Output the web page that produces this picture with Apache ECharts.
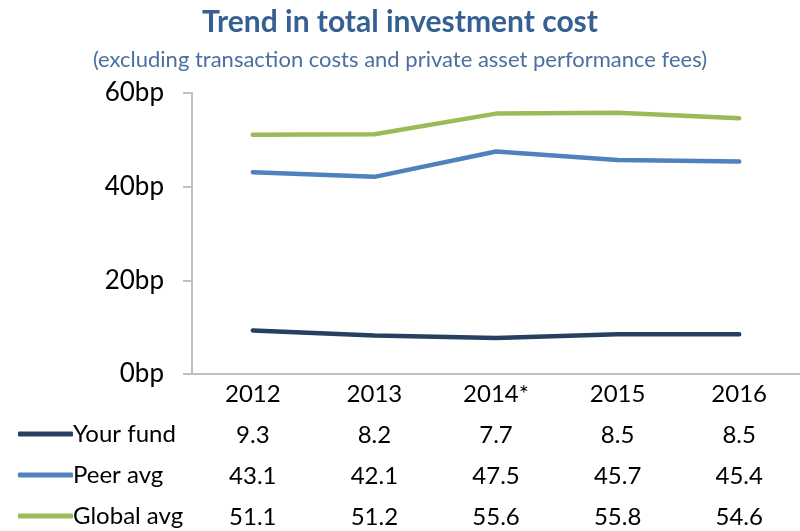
<!DOCTYPE html>
<html>
<head>
<meta charset="utf-8">
<script src="https://cdn.jsdelivr.net/npm/echarts@6/dist/echarts.min.js"></script>
<style>
  html, body { margin: 0; padding: 0; background: #fff; }
  #chart { width: 800px; height: 531px; }
</style>
</head>
<body>
<div id="chart"></div>
<script>
var years = ['2012', '2013', '2014*', '2015', '2016'];
var yourFund = [9.3, 8.2, 7.7, 8.5, 8.5];
var peerAvg = [43.1, 42.1, 47.5, 45.7, 45.4];
var globalAvg = [51.1, 51.2, 55.6, 55.8, 54.6];
var yTicks = [0, 20, 40, 60];

var font = 'Lato';
var seriesNames = ['Your fund', 'Peer avg', 'Global avg'];
var colors = ['#254061', '#4F81BD', '#9BBB59'];

// one extra x axis per table row, pushed down with offset
function rowAxis(values, off) {
    return {
        type: 'category',
        gridIndex: 0,
        position: 'bottom',
        offset: off,
        data: values.map(function (v) { return v.toFixed(1); }),
        axisLine: { show: false },
        axisTick: { show: false },
        axisLabel: { color: '#000', fontSize: 24, fontFamily: font, margin: 8 }
    };
}

var chart = echarts.init(document.getElementById('chart'));
var option = {
    animation: false,
    title: {
        text: 'Trend in total investment cost',
        subtext: '(excluding transaction costs and private asset performance fees)',
        left: 'center',
        top: 2,
        itemGap: 12,
        textStyle: { color: '#366092', fontSize: 30, fontWeight: 'bold', fontFamily: font },
        subtextStyle: { color: '#4A6FA0', fontSize: 22, fontFamily: font }
    },
    legend: {
        orient: 'vertical',
        left: 13,
        top: 414,
        height: 130,
        itemWidth: 55,
        itemHeight: 5,
        itemGap: 11,
        icon: 'roundRect',
        data: seriesNames,
        textStyle: { color: '#000', fontSize: 24, fontFamily: font, lineHeight: 30, padding: [0, 0, 0, -5] }
    },
    grid: { left: 192, top: 93, width: 620, height: 281 },
    xAxis: [
        {
            type: 'category',
            data: years,
            axisLine: { lineStyle: { color: '#BFBFBF', width: 2 } },
            axisTick: { show: false },
            axisLabel: { color: '#000', fontSize: 24, fontFamily: font, margin: 8 }
        },
        rowAxis(yourFund, 41),
        rowAxis(peerAvg, 82),
        rowAxis(globalAvg, 123)
    ],
    yAxis: {
        type: 'value',
        min: yTicks[0],
        max: yTicks[yTicks.length - 1],
        interval: 20,
        axisLine: { show: true, lineStyle: { color: '#BFBFBF', width: 2 } },
        axisTick: { show: true, inside: false, length: 9, lineStyle: { color: '#BFBFBF', width: 2 } },
        splitLine: { show: false },
        axisLabel: { color: '#000', fontSize: 26, fontFamily: font, margin: 28, formatter: '{value}bp' }
    },
    series: [
        { name: seriesNames[0], type: 'line', data: yourFund },
        { name: seriesNames[1], type: 'line', data: peerAvg },
        { name: seriesNames[2], type: 'line', data: globalAvg }
    ].map(function (s, i) {
        s.showSymbol = false;
        s.color = colors[i];
        s.lineStyle = { width: 4.5, color: colors[i], cap: 'round', join: 'round' };
        return s;
    })
};
chart.setOption(option);
</script>
</body>
</html>
